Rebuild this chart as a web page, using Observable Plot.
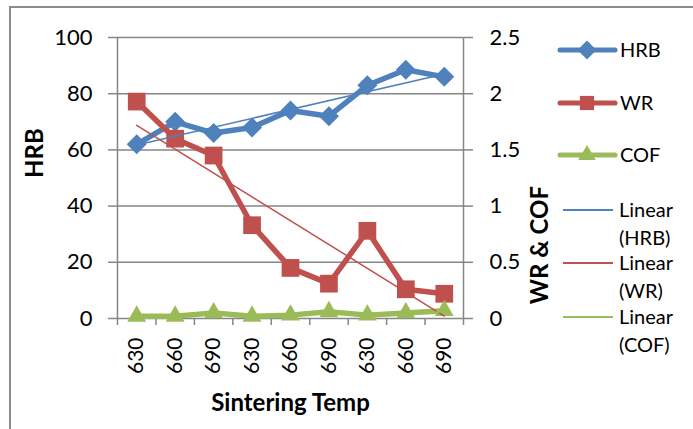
<!DOCTYPE html>
<html>
<head>
<meta charset="utf-8">
<script src="https://cdn.jsdelivr.net/npm/d3@7"></script>
<script src="https://cdn.jsdelivr.net/npm/@observablehq/plot@0.6"></script>
<style>
  html, body { margin: 0; padding: 0; background: #fff; }
  #wrap { position: relative; width: 693px; height: 429px; overflow: hidden; font-family: Lato, "Open Sans", sans-serif; }
  #border { position: absolute; left: 9px; top: 6px; width: 800px; height: 600px; border-left: 2px solid #8c8c8c; border-top: 2px solid #8c8c8c; }
  #legend { position: absolute; left: 0; top: 0; pointer-events: none; }
</style>
</head>
<body>
<div id="wrap"><div id="border"></div></div>
<script>
const categories = ["630", "660", "690", "630", "660", "690", "630", "660", "690"];
const hrb = [62, 70, 66, 68, 74, 72, 83, 88.5, 86];
const wr = [1.93, 1.6, 1.45, 0.83, 0.45, 0.31, 0.78, 0.26, 0.22];
const cof = [0.02, 0.02, 0.05, 0.02, 0.03, 0.06, 0.03, 0.05, 0.07];
const leftTicks = [0, 20, 40, 60, 80, 100];
const rightTicks = [0, 0.5, 1, 1.5, 2, 2.5];
const seriesNames = ["HRB", "WR", "COF"];
const trendNames = ["Linear (HRB)", "Linear (WR)", "Linear (COF)"];
const colors = ["#4F81BD", "#C0504D", "#9BBB59"];

const ratio = leftTicks[leftTicks.length - 1] / rightTicks[rightTicks.length - 1];
const rows = categories.map((c, i) => ({i: i + 1, cat: c, hrb: hrb[i], wr: wr[i] * ratio, cof: cof[i] * ratio}));
const idx = rows.map(d => d.i);
const bounds = [idx[0] - 0.5, ...idx.map(v => v + 0.5)];
const grid = "#868686";
const font = "Lato, 'Open Sans', sans-serif";

const chart = Plot.plot({
  width: 693,
  height: 429,
  marginLeft: 117,
  marginRight: 230,
  marginTop: 37,
  marginBottom: 111,
  style: {fontFamily: font, fontSize: "22px", background: "transparent", overflow: "visible"},
  x: {type: "linear", domain: [bounds[0], bounds[bounds.length - 1]]},
  y: {domain: [leftTicks[0], leftTicks[leftTicks.length - 1]]},
  marks: [
    Plot.gridY(leftTicks, {stroke: grid, strokeOpacity: 1, strokeWidth: 1.5}),
    Plot.ruleX([bounds[0], bounds[bounds.length - 1]], {stroke: grid, strokeWidth: 1.5}),
    Plot.axisY(leftTicks, {anchor: "left", tickSize: 9, tickPadding: 16, stroke: grid, strokeWidth: 1.5, fontSize: 22, label: null}),
    Plot.axisY(rightTicks.map(v => v * ratio), {anchor: "right", tickSize: 9, tickPadding: 17, stroke: grid, strokeWidth: 1.5, fontSize: 22, tickFormat: d => String(d / ratio), label: null}),
    Plot.axisX(bounds, {tickSize: 7, stroke: grid, strokeWidth: 1.5, tickFormat: () => "", label: null}),
    Plot.axisX(idx, {tickSize: 0, tickPadding: 19, tickRotate: -90, fontSize: 21, tickFormat: d => categories[d - 1], label: null}),
    Plot.text(["HRB"], {frameAnchor: "left", dx: -82, rotate: -90, fontWeight: "bold", fontSize: 24}),
    Plot.text(["WR & COF"], {frameAnchor: "right", dx: 77, dy: 8, rotate: -90, fontWeight: "bold", fontSize: 24}),
    Plot.text(["Sintering Temp"], {frameAnchor: "bottom", dy: 92, fontWeight: "bold", fontSize: 24}),
    Plot.line(rows, {x: "i", y: "hrb", stroke: colors[0], strokeWidth: 5.5}),
    Plot.dot(rows, {x: "i", y: "hrb", symbol: "diamond2", r: 9, fill: colors[0], stroke: null}),
    Plot.line(rows, {x: "i", y: "wr", stroke: colors[1], strokeWidth: 5.5}),
    Plot.dot(rows, {x: "i", y: "wr", symbol: "square", r: 10, fill: colors[1], stroke: null}),
    Plot.line(rows, {x: "i", y: "cof", stroke: colors[2], strokeWidth: 5.5}),
    Plot.dot(rows, {x: "i", y: "cof", symbol: "triangle", r: 7, fill: colors[2], stroke: null}),
    Plot.linearRegressionY(rows, {x: "i", y: "hrb", stroke: colors[0], strokeWidth: 1.5, ci: 0}),
    Plot.linearRegressionY(rows, {x: "i", y: "wr", stroke: colors[1], strokeWidth: 1.5, ci: 0}),
    Plot.linearRegressionY(rows, {x: "i", y: "cof", stroke: colors[2], strokeWidth: 1.5, ci: 0})
  ]
});
document.getElementById("wrap").appendChild(chart);

// Legend
const lg = d3.select("#wrap").append("svg").attr("id", "legend").attr("width", 693).attr("height", 429)
  .style("font-family", font).style("font-size", "20px");
const symbols = [d3.symbolDiamond2, d3.symbolSquare, d3.symbolTriangle];
const symSizes = [Math.PI * 8.5 * 8.5, Math.PI * 8 * 8, Math.PI * 6.5 * 6.5];
const seriesY = [50, 103, 155];
seriesNames.forEach((name, k) => {
  const g = lg.append("g").attr("transform", `translate(0,${seriesY[k]})`);
  g.append("line").attr("x1", 560).attr("x2", 615).attr("stroke", colors[k]).attr("stroke-width", 5).attr("stroke-linecap", "round");
  g.append("path").attr("d", d3.symbol(symbols[k], symSizes[k])()).attr("transform", "translate(587,0)").attr("fill", colors[k]);
  g.append("text").attr("x", 620).attr("dy", "0.35em").text(name);
});
const trendY = [210, 263, 317];
trendNames.forEach((name, k) => {
  const g = lg.append("g").attr("transform", `translate(0,${trendY[k]})`);
  g.append("line").attr("x1", 563).attr("x2", 613).attr("stroke", colors[k]).attr("stroke-width", 2);
  const parts = name.split(" ");
  g.append("text").attr("x", 619).attr("dy", "0.35em").text(parts[0]);
  g.append("text").attr("x", 619).attr("y", 28).attr("dy", "0.35em").text(parts[1]);
});
</script>
</body>
</html>
